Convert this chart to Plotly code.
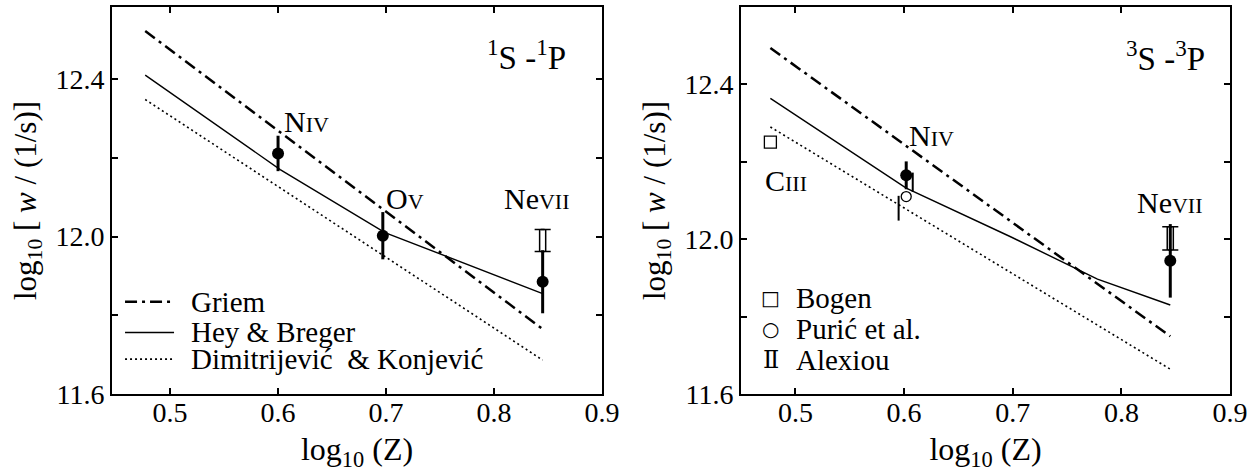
import plotly.graph_objects as go

# ---------------- data ----------------
# log10(Z) grid for theory curves (Z = 3, 4, 5, 6, 7)
z_line = [0.477, 0.602, 0.699, 0.778, 0.845]

# 1S - 1P panel (left)
L_griem = [12.522, 12.265, 12.065, 11.903, 11.765]
L_hey_breger = [12.410, 12.170, 12.010, 11.926, 11.855]
L_dim_konj = [12.348, 12.124, 11.949, 11.807, 11.686]

L_exp_x = [0.600, 0.697, 0.845]
L_exp_y = [12.211, 12.002, 11.885]
L_exp_err = [0.045, 0.060, 0.080]

L_alex_x = [0.845]
L_alex_y = [11.990]
L_alex_err = [0.028]

# 3S - 3P panel (right)
R_griem = [12.494, 12.241, 12.046, 11.886, 11.749]
R_hey_breger = [12.364, 12.132, 12.005, 11.897, 11.830]
R_dim_konj = [12.290, 12.077, 11.912, 11.778, 11.664]

R_exp_x = [0.602, 0.845]
R_exp_y = [12.165, 11.944]
R_exp_err = [0.036, 0.095]

R_bogen_x = [0.477]
R_bogen_y = [12.251]

R_puric_x = [0.602]
R_puric_y = [12.110]
R_puric_bar_x = [0.595, 0.608]
R_puric_bar_lo = [12.048, 12.122]
R_puric_bar_hi = [12.112, 12.172]

R_alex_x = [0.845]
R_alex_y = [12.002]
R_alex_err = [0.030]

x_ticks = [0.5, 0.6, 0.7, 0.8, 0.9]
x_ticktext = ["0.5", "0.6", "0.7", "0.8", "0.9"]
y_ticks = [11.6, 12.0, 12.4]
y_ticktext = ["11.6", "12.0", "12.4"]
y_minor_ticks = [11.8, 12.2]

# ---------------- styling ----------------
SERIF = "Liberation Serif"
BLACK = "black"
DASHDOT = "12px,5px,3px,5px"
DOT = "2px,3px"

fig = go.Figure()


def theory(xa, ya, griem, hb, dk):
    fig.add_trace(go.Scatter(x=z_line, y=griem, mode="lines", xaxis=xa, yaxis=ya,
                             line=dict(color=BLACK, width=2.5, dash=DASHDOT), showlegend=False))
    fig.add_trace(go.Scatter(x=z_line, y=hb, mode="lines", xaxis=xa, yaxis=ya,
                             line=dict(color=BLACK, width=1.4), showlegend=False))
    fig.add_trace(go.Scatter(x=z_line, y=dk, mode="lines", xaxis=xa, yaxis=ya,
                             line=dict(color=BLACK, width=1.6, dash=DOT), showlegend=False))


def alexiou(xa, ya, xs, ys, errs):
    # double-line bar with caps (two parallel error bars)
    for off in (-0.0028, 0.0028):
        fig.add_trace(go.Scatter(x=[v + off for v in xs], y=ys, mode="markers", xaxis=xa, yaxis=ya,
                                 marker=dict(size=1, color="rgba(0,0,0,0)"),
                                 error_y=dict(type="data", array=errs, visible=True, color=BLACK,
                                              thickness=1.5, width=5),
                                 showlegend=False))


def filled_points(xa, ya, xs, ys, errs):
    fig.add_trace(go.Scatter(x=xs, y=ys, mode="markers", xaxis=xa, yaxis=ya,
                             marker=dict(size=12, color=BLACK, symbol="circle"),
                             error_y=dict(type="data", array=errs, visible=True, color=BLACK,
                                          thickness=3, width=0),
                             showlegend=False))


# left panel
theory("x", "y", L_griem, L_hey_breger, L_dim_konj)
alexiou("x", "y", L_alex_x, L_alex_y, L_alex_err)
filled_points("x", "y", L_exp_x, L_exp_y, L_exp_err)

# right panel
theory("x2", "y2", R_griem, R_hey_breger, R_dim_konj)
alexiou("x2", "y2", R_alex_x, R_alex_y, R_alex_err)
fig.add_trace(go.Scatter(x=R_puric_bar_x, y=R_puric_bar_lo, mode="markers", xaxis="x2", yaxis="y2",
                         marker=dict(size=1, color="rgba(0,0,0,0)"),
                         error_y=dict(type="data", symmetric=False,
                                      array=[h - l for h, l in zip(R_puric_bar_hi, R_puric_bar_lo)],
                                      arrayminus=[0, 0], visible=True, color=BLACK,
                                      thickness=2, width=0),
                         showlegend=False))
filled_points("x2", "y2", R_exp_x, R_exp_y, R_exp_err)
fig.add_trace(go.Scatter(x=R_puric_x, y=R_puric_y, mode="markers", xaxis="x2", yaxis="y2",
                         marker=dict(size=10, color="white", symbol="circle",
                                     line=dict(color=BLACK, width=1.3)),
                         showlegend=False))
fig.add_trace(go.Scatter(x=R_bogen_x, y=R_bogen_y, mode="markers", xaxis="x2", yaxis="y2",
                         marker=dict(size=12, color="white", symbol="square",
                                     line=dict(color=BLACK, width=1.3)),
                         showlegend=False))

# ---------------- axes ----------------
common_x = dict(tickvals=x_ticks, ticktext=x_ticktext, ticks="inside", ticklen=6, tickwidth=1.5,
                tickcolor=BLACK, showline=True, linewidth=2, linecolor=BLACK, mirror="ticks",
                showgrid=False, zeroline=False, tickfont=dict(family=SERIF, size=28, color=BLACK),
                ticklabelstandoff=-8,
                title=dict(text="log<sub>10</sub> (Z)", font=dict(family=SERIF, size=32, color=BLACK),
                           standoff=14))
common_y = dict(tickvals=y_ticks, ticktext=y_ticktext, ticks="inside", ticklen=6, tickwidth=1.5,
                tickcolor=BLACK, showline=True, linewidth=2, linecolor=BLACK, mirror="ticks",
                minor=dict(tickvals=y_minor_ticks, ticks="inside", ticklen=6, tickwidth=1.5,
                           tickcolor=BLACK, showgrid=False),
                showgrid=False, zeroline=False, tickfont=dict(family=SERIF, size=28, color=BLACK),
                title=dict(text="log<sub>10</sub> [ <i>w</i> / (1/s)]",
                           font=dict(family=SERIF, size=31, color=BLACK), standoff=10))

fig.update_layout(
    width=1259, height=472, template="none",
    paper_bgcolor="white", plot_bgcolor="white",
    margin=dict(l=0, r=0, t=0, b=0),
    showlegend=False,
    xaxis=dict(domain=[0.0890, 0.4782], range=[0.4463, 0.9], anchor="y", **common_x),
    yaxis=dict(domain=[0.1653, 0.9852], range=[11.6, 12.583], anchor="x", **common_y),
    xaxis2=dict(domain=[0.5886, 0.9770], range=[0.45, 0.9], anchor="y2", **common_x),
    yaxis2=dict(domain=[0.1653, 0.9852], range=[11.6, 12.60], anchor="x2", **common_y),
)

# ---------------- labels ----------------
def label(xref, yref, x, y, text, size=30):
    fig.add_annotation(x=x, y=y, xref=xref, yref=yref, text=text, showarrow=False,
                       xanchor="center", yanchor="middle",
                       font=dict(family=SERIF, size=size, color=BLACK))

sc = "<span style='font-size:22px'>%s</span>"
label("x", "y", 0.626, 12.293, "N" + sc % "IV")
label("x", "y", 0.718, 12.096, "O" + sc % "V")
label("x", "y", 0.840, 12.096, "Ne" + sc % "VII")
label("x", "y", 0.830, 12.461, "<sup>1</sup>S -<sup>1</sup>P", size=33)

label("x2", "y2", 0.625, 12.267, "N" + sc % "IV")
label("x2", "y2", 0.491, 12.151, "C" + sc % "III")
label("x2", "y2", 0.845, 12.095, "Ne" + sc % "VII")
label("x2", "y2", 0.841, 12.473, "<sup>3</sup>S -<sup>3</sup>P", size=33)

# ---------------- legends ----------------
leg_left = [("Griem", DASHDOT, 2.5, 0.238), ("Hey &amp; Breger", "solid", 1.4, 0.159),
            ("Dimitrijević  &amp; Konjević", DOT, 1.6, 0.090)]
for name, dash, w, yy in leg_left:
    fig.add_shape(type="line", xref="x domain", yref="y domain", x0=0.0265, x1=0.1265, y0=yy, y1=yy,
                  line=dict(color=BLACK, width=w, dash=dash))
    fig.add_annotation(xref="x domain", yref="y domain", x=0.158, y=yy, text=name, showarrow=False,
                       xanchor="left", yanchor="middle", font=dict(family=SERIF, size=29, color=BLACK))

leg_right = [("□", "Bogen", 0.248, 20), ("○", "Purić et al.", 0.167, 20), ("Ⅱ", "Alexiou", 0.089, 24)]
for sym, name, yy, fs in leg_right:
    fig.add_annotation(xref="x2 domain", yref="y2 domain", x=0.0605, y=yy, text=sym, showarrow=False,
                       xanchor="center", yanchor="middle",
                       font=dict(family="DejaVu Serif", size=fs, color=BLACK))
    fig.add_annotation(xref="x2 domain", yref="y2 domain", x=0.108, y=yy, text=name, showarrow=False,
                       xanchor="left", yanchor="middle", font=dict(family=SERIF, size=29, color=BLACK))

fig.write_html("out.html", config={"displayModeBar": False},
               post_script="document.body.style.margin='0';")
